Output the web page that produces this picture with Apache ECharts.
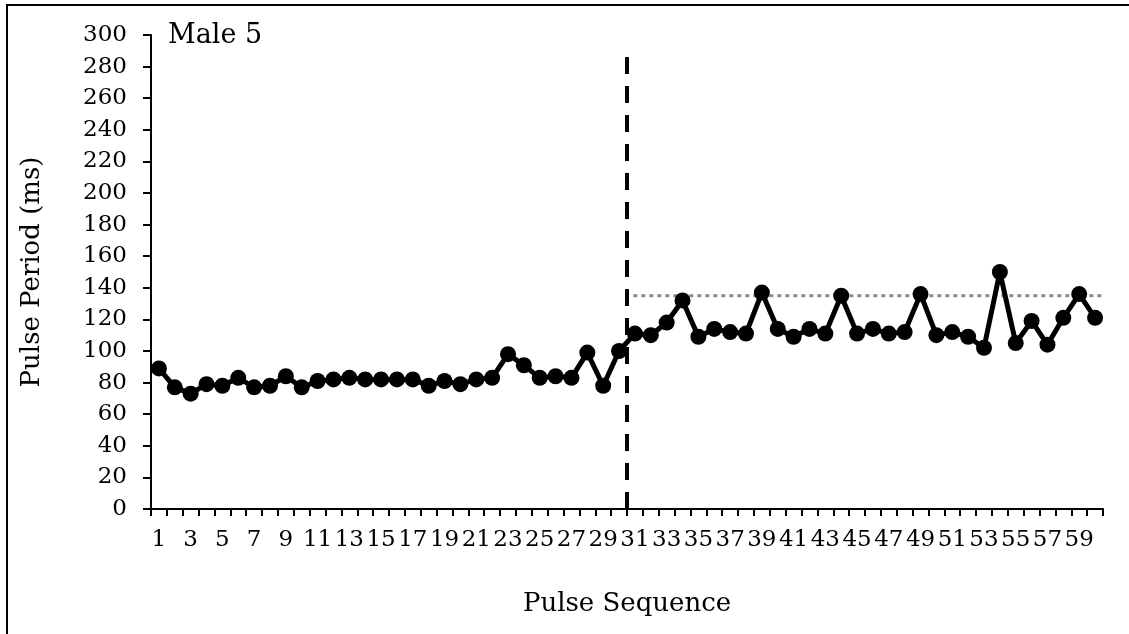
<!DOCTYPE html>
<html><head><meta charset="utf-8">
<script src="https://cdn.jsdelivr.net/npm/echarts@6/dist/echarts.min.js"></script>
<style>html,body{margin:0;padding:0;background:#fff}#c{width:1129px;height:634px}</style>
</head><body><div id="c"></div>
<script>
const categories = Array.from({length: 60}, (_, i) => String(i + 1));
const pulsePeriod = [89,77,73,79,78,83,77,78,84,77,81,82,83,82,82,82,82,78,81,79,82,83,98,91,83,84,83,99,78,100,
  111,110,118,132,109,114,112,111,137,114,109,114,111,135,111,114,111,112,136,110,112,109,102,150,105,119,104,121,136,121];
const dividerLine = [[30, 0], [30, 290]];
const meanLine = [[30.4, 135], [60.6, 135]];
const yTicks = {min: 0, max: 300, interval: 20};
const FONT = 'DejaVu Serif';

const chart = echarts.init(document.getElementById('c'), null, {renderer: 'canvas'});
chart.setOption({
  animation: false,
  backgroundColor: '#fff',
  grid: {left: 151, right: 26, top: 35, bottom: 125, containLabel: false},
  graphic: [
    {type: 'rect', shape: {x: 7, y: 5, width: 1140, height: 650}, style: {fill: 'none', stroke: '#000', lineWidth: 2}, silent: true},
    {type: 'text', left: 168, top: 22, style: {text: 'Male 5', font: '27px "DejaVu Serif"', fill: '#000'}}
  ],
  xAxis: [{
    type: 'category', data: categories, boundaryGap: true,
    name: 'Pulse Sequence', nameLocation: 'middle', nameGap: 82,
    nameTextStyle: {fontFamily: FONT, fontSize: 26, color: '#000'},
    axisLine: {lineStyle: {color: '#000', width: 2}},
    axisTick: {show: true, interval: 0, length: 7, lineStyle: {color: '#000', width: 2}},
    axisLabel: {interval: 1, margin: 20, fontFamily: FONT, fontSize: 23, color: '#000'},
    splitLine: {show: false}
  }, {
    type: 'value', min: 0, max: 60, show: false
  }],
  yAxis: {
    type: 'value', min: yTicks.min, max: yTicks.max, interval: yTicks.interval,
    name: 'Pulse Period (ms)', nameLocation: 'middle', nameGap: 106,
    nameTextStyle: {fontFamily: FONT, fontSize: 26, color: '#000'},
    axisLine: {show: true, lineStyle: {color: '#000', width: 2}},
    axisTick: {show: true, length: 8, lineStyle: {color: '#000', width: 2}},
    axisLabel: {margin: 24, fontFamily: FONT, fontSize: 23, color: '#000'},
    splitLine: {show: false}
  },
  series: [
    {
      type: 'line', xAxisIndex: 1, data: meanLine, symbol: 'none', clip: false,
      lineStyle: {color: '#8c8c8c', width: 3, type: [4, 4]}, z: 1
    },
    {
      type: 'line', xAxisIndex: 1, data: dividerLine, symbol: 'none', clip: false,
      lineStyle: {color: '#000', width: 4, type: [17, 12]}, z: 2
    },
    {
      type: 'line', xAxisIndex: 0, data: pulsePeriod, symbol: 'circle', symbolSize: 16, showAllSymbol: true,
      itemStyle: {color: '#000'}, lineStyle: {color: '#000', width: 5}, z: 3
    }
  ]
});
</script></body></html>
